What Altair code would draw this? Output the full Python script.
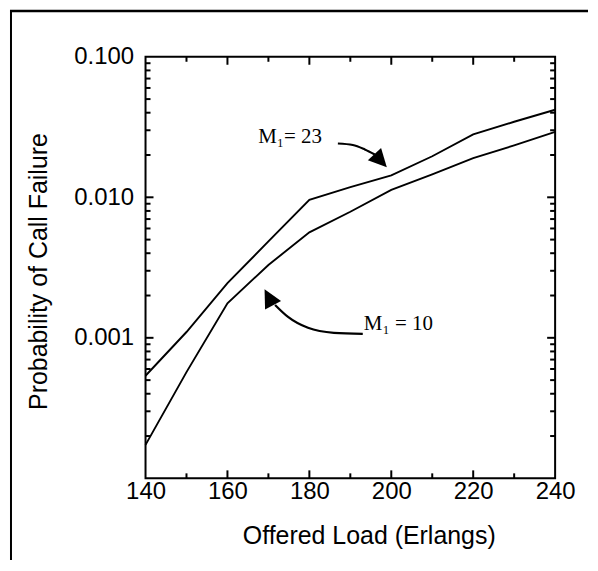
import altair as alt
import pandas as pd

# ---- data ----
loads = [140, 150, 160, 170, 180, 190, 200, 210, 220, 230, 240]
p_m23 = [0.000537, 0.00110, 0.00245, 0.00485, 0.0096, 0.0118, 0.0143, 0.0196, 0.028, 0.0345, 0.042]
p_m10 = [0.000173, 0.00057, 0.00176, 0.0033, 0.00563, 0.00789, 0.01128, 0.01456, 0.019, 0.0234, 0.0292]

x_ticks_major = [160, 180, 200, 220]
x_ticks_minor = [150, 170, 190, 210, 230]
y_ticks_major = [0.01, 0.001]
y_ticks_minor = [m * 10.0 ** e for e in (-4, -3, -2) for m in (2, 3, 4, 5, 6, 7, 8, 9)]
x_label_vals = [140, 160, 180, 200, 220, 240]
y_label_vals = [0.1, 0.01, 0.001]

# annotation labels and arrows (in data coordinates)
ann_text = ["M\u2081= 23", "M\u2081 = 10"]
ann_x = [167.5, 193.3]
ann_y = [0.02415, 0.00114]

arrow_a_x = [186.96, 190.61, 193.53, 195.96]
arrow_a_y = [0.02415, 0.02357, 0.02190, 0.02018]
arrow_b_x = [193.04, 185.99, 179.66, 174.79, 171.63]
arrow_b_y = [0.001068, 0.001085, 0.001178, 0.001409, 0.001714]
head_x = [197.40, 170.10]
head_y = [0.01821, 0.001947]
head_angle = [137, 332]

W, H = 411, 423

lines_df = pd.DataFrame({
    "load": loads * 2,
    "p": p_m23 + p_m10,
    "series": ["M1=23"] * len(loads) + ["M1=10"] * len(loads),
})

xs = alt.Scale(domain=[140, 240], nice=False, zero=False)
ys = alt.Scale(type="log", domain=[0.0001, 0.1], nice=False)

lines = alt.Chart(lines_df).mark_line(color="black", strokeWidth=1.9).encode(
    x=alt.X("load:Q", scale=xs,
            axis=alt.Axis(title="Offered Load (Erlangs)", values=x_label_vals, format="d",
                          labelPadding=1, titlePadding=20, titleX=224, labelFlush=False,
                          labelOverlap=False)),
    y=alt.Y("p:Q", scale=ys,
            axis=alt.Axis(title="Probability of Call Failure", values=y_label_vals, format=".3f",
                          labelPadding=12, titlePadding=22, titleY=215, labelFlush=False,
                          labelOverlap=False)),
    detail="series:N",
)

xmaj_df = pd.DataFrame({"load": x_ticks_major})
xmin_df = pd.DataFrame({"load": x_ticks_minor})
ymaj_df = pd.DataFrame({"p": y_ticks_major})
ymin_df = pd.DataFrame({"p": y_ticks_minor})

TK = dict(color="black", strokeWidth=2)
ticks = [
    alt.Chart(xmaj_df).mark_rule(**TK).encode(x=alt.X("load:Q", scale=xs), y=alt.value(H), y2=alt.value(H - 8)),
    alt.Chart(xmin_df).mark_rule(**TK).encode(x=alt.X("load:Q", scale=xs), y=alt.value(H), y2=alt.value(H - 5)),
    alt.Chart(xmaj_df).mark_rule(**TK).encode(x=alt.X("load:Q", scale=xs), y=alt.value(0), y2=alt.value(8)),
    alt.Chart(xmin_df).mark_rule(**TK).encode(x=alt.X("load:Q", scale=xs), y=alt.value(0), y2=alt.value(5)),
    alt.Chart(ymaj_df).mark_rule(**TK).encode(y=alt.Y("p:Q", scale=ys), x=alt.value(0), x2=alt.value(8)),
    alt.Chart(ymin_df).mark_rule(**TK).encode(y=alt.Y("p:Q", scale=ys), x=alt.value(0), x2=alt.value(5)),
    alt.Chart(ymaj_df).mark_rule(**TK).encode(y=alt.Y("p:Q", scale=ys), x=alt.value(W), x2=alt.value(W - 8)),
    alt.Chart(ymin_df).mark_rule(**TK).encode(y=alt.Y("p:Q", scale=ys), x=alt.value(W), x2=alt.value(W - 5)),
]

ann_df = pd.DataFrame({"load": ann_x, "p": ann_y, "t": ann_text})
ann = alt.Chart(ann_df).mark_text(
    align="left", baseline="alphabetic", font="Liberation Serif", fontSize=21, color="black"
).encode(x=alt.X("load:Q", scale=xs), y=alt.Y("p:Q", scale=ys), text="t:N")

arrow_df = pd.DataFrame({
    "load": arrow_a_x + arrow_b_x,
    "p": arrow_a_y + arrow_b_y,
    "a": ["a"] * len(arrow_a_x) + ["b"] * len(arrow_b_x),
    "o": list(range(len(arrow_a_x))) + list(range(len(arrow_b_x))),
})
arrows = alt.Chart(arrow_df).mark_line(color="black", strokeWidth=2.2, interpolate="monotone").encode(
    x=alt.X("load:Q", scale=xs), y=alt.Y("p:Q", scale=ys), detail="a:N", order="o:Q")

head_df = pd.DataFrame({"load": head_x, "p": head_y, "ang": head_angle})
heads = alt.Chart(head_df).mark_point(
    shape="M0,-1L1,1L-1,1Z", filled=True, color="black", opacity=1, size=330, strokeWidth=0
).encode(x=alt.X("load:Q", scale=xs), y=alt.Y("p:Q", scale=ys),
         angle=alt.Angle("ang:Q", scale=None))

frame_df = pd.DataFrame({"k": [0]})
border_top = alt.Chart(frame_df).mark_rule(color="black", strokeWidth=2.5).encode(
    x=alt.value(-136), x2=alt.value(444), y=alt.value(-46))
border_left = alt.Chart(frame_df).mark_rule(color="black", strokeWidth=2).encode(
    x=alt.value(-135), y=alt.value(-47), y2=alt.value(505))

chart = alt.layer(lines, arrows, heads, ann, border_top, border_left, *ticks).properties(
    width=W, height=H, padding=0
).configure_view(stroke="black", strokeWidth=2).configure_axis(
    domain=False, ticks=False, grid=False,
    labelFont="Liberation Sans", labelFontSize=24, labelColor="black",
    titleFont="Liberation Sans", titleFontSize=25, titleFontWeight="normal", titleColor="black",
)

chart.save("out.html", embed_options={"renderer": "svg", "actions": False})
